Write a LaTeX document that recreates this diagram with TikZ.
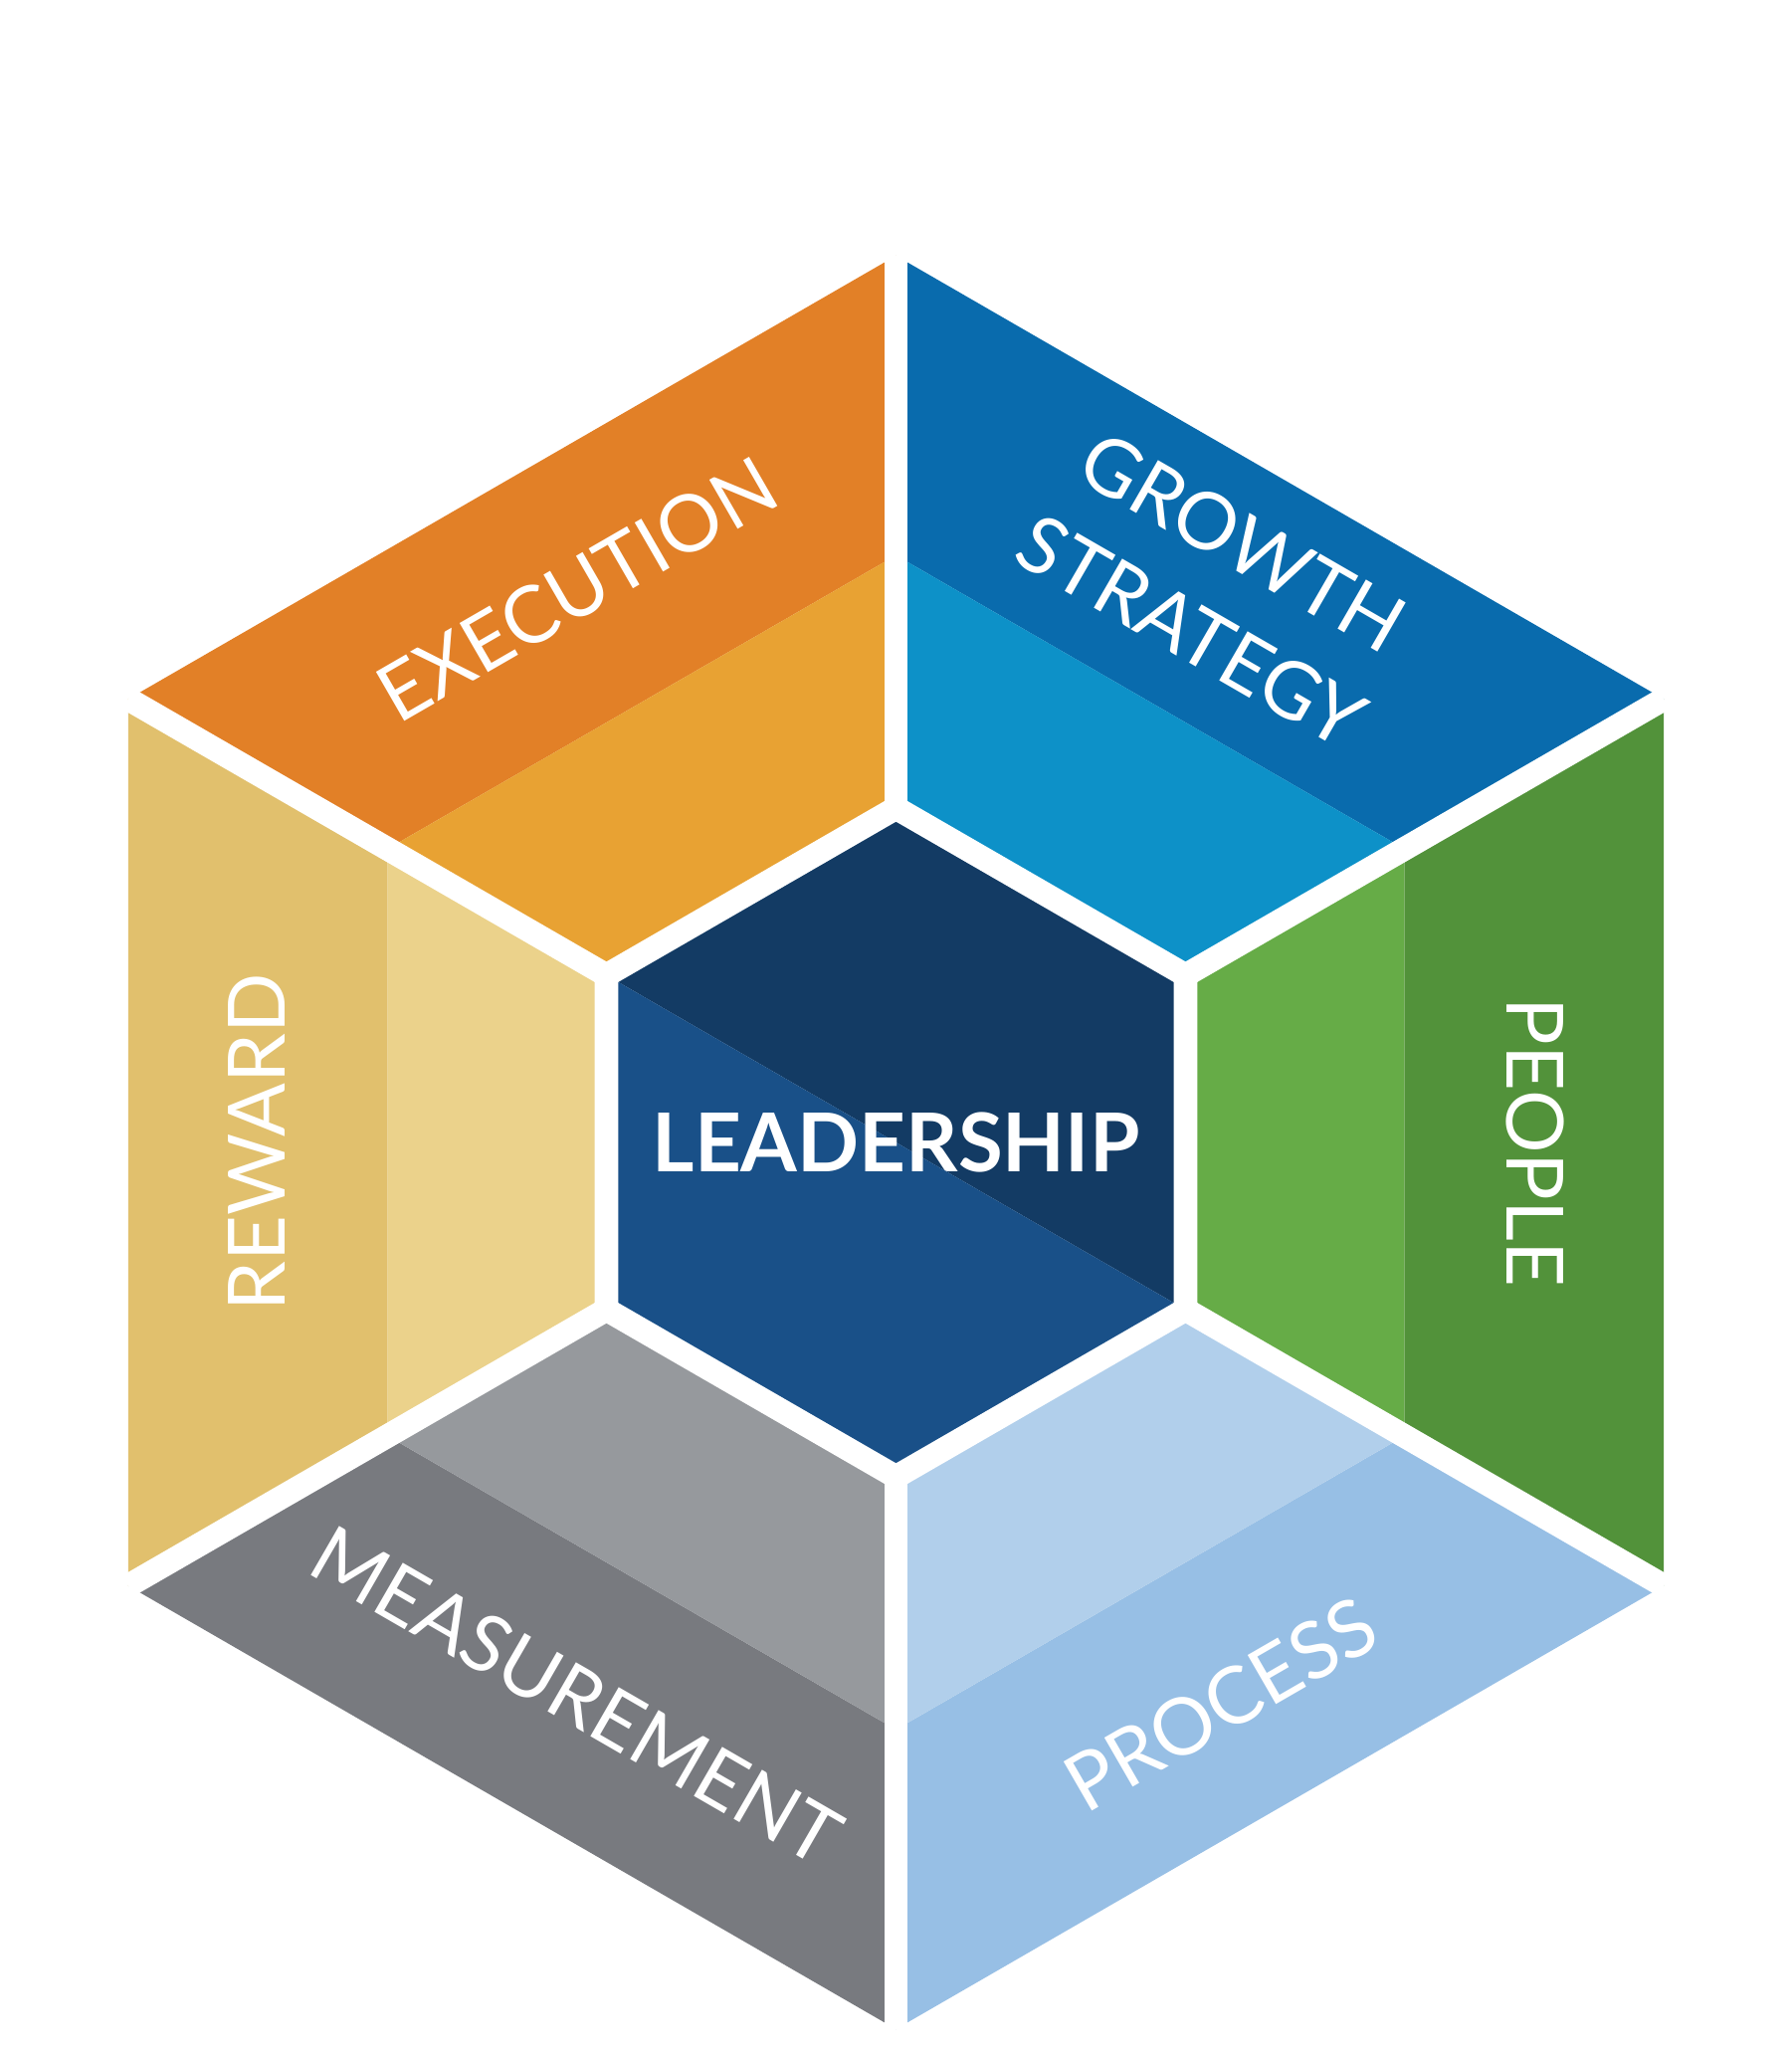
\documentclass[tikz,border=0pt]{standalone}
\usepackage{fontspec}
\setmainfont{Lato}

\definecolor{execdark}{HTML}{E28027}
\definecolor{execlight}{HTML}{E8A233}
\definecolor{growdark}{HTML}{096BAD}
\definecolor{growlight}{HTML}{0D91C8}
\definecolor{peopledark}{HTML}{52923A}
\definecolor{peoplelight}{HTML}{66AC47}
\definecolor{procdark}{HTML}{97BFE5}
\definecolor{proclight}{HTML}{B1CFEB}
\definecolor{measdark}{HTML}{787A7F}
\definecolor{measlight}{HTML}{96999D}
\definecolor{rewarddark}{HTML}{E1C06D}
\definecolor{rewardlight}{HTML}{EBD28B}
\definecolor{leaddark}{HTML}{133B64}
\definecolor{leadlight}{HTML}{195088}

\begin{document}
\begin{tikzpicture}[x=0.01cm,y=0.01cm,
    label text/.style={text=white,font=\fontsize{22.6}{29.5}\selectfont,align=center,inner sep=0pt},
    lead text/.style={text=white,font=\fontsize{23.2}{28}\selectfont\bfseries,inner sep=0pt},
    gap line/.style={white,line width=0.237cm}]
%  \draw [step=100,color=gray] (-900,-916) grid (900,1148);
  \useasboundingbox (-900.5,-916) rectangle (900.5,1148);

  % outer corners
  \path (90:891) coordinate (O1);
  \path (150:891) coordinate (O2);
  \path (210:891) coordinate (O3);
  \path (270:891) coordinate (O4);
  \path (330:891) coordinate (O5);
  \path (30:891) coordinate (O6);

  % where the two tones meet
  \path (90:590) coordinate (D1);
  \path (150:590) coordinate (D2);
  \path (210:590) coordinate (D3);
  \path (270:590) coordinate (D4);
  \path (330:590) coordinate (D5);
  \path (30:590) coordinate (D6);

  % inner hexagon
  \path (90:336) coordinate (I1);
  \path (150:336) coordinate (I2);
  \path (210:336) coordinate (I3);
  \path (270:336) coordinate (I4);
  \path (330:336) coordinate (I5);
  \path (30:336) coordinate (I6);

  \fill[execdark] (O1) -- (O2) -- (D2) -- (D1) -- cycle;
  \fill[execlight] (D1) -- (D2) -- (I2) -- (I1) -- cycle;
  \fill[rewarddark] (O2) -- (O3) -- (D3) -- (D2) -- cycle;
  \fill[rewardlight] (D2) -- (D3) -- (I3) -- (I2) -- cycle;
  \fill[measdark] (O3) -- (O4) -- (D4) -- (D3) -- cycle;
  \fill[measlight] (D3) -- (D4) -- (I4) -- (I3) -- cycle;
  \fill[procdark] (O4) -- (O5) -- (D5) -- (D4) -- cycle;
  \fill[proclight] (D4) -- (D5) -- (I5) -- (I4) -- cycle;
  \fill[peopledark] (O5) -- (O6) -- (D6) -- (D5) -- cycle;
  \fill[peoplelight] (D5) -- (D6) -- (I6) -- (I5) -- cycle;
  \fill[growdark] (O6) -- (O1) -- (D1) -- (D6) -- cycle;
  \fill[growlight] (D6) -- (D1) -- (I1) -- (I6) -- cycle;

  \fill[leaddark] (I5) -- (I6) -- (I1) -- (I2) -- cycle;
  \fill[leadlight] (I2) -- (I3) -- (I4) -- (I5) -- cycle;

  % white gaps
  \draw[gap line] (I1) -- (O1);
  \draw[gap line] (I2) -- (O2);
  \draw[gap line] (I3) -- (O3);
  \draw[gap line] (I4) -- (O4);
  \draw[gap line] (I5) -- (O5);
  \draw[gap line] (I6) -- (O6);
  \draw[gap line] (I1) -- (I2) -- (I3) -- (I4) -- (I5) -- (I6) -- cycle;

  \node[label text, rotate=30] (execution) at (120:642) {EXECUTION};
  \node[label text, rotate=-30] (growth) at (60:645) {GROWTH\\STRATEGY};
  \node[label text, rotate=-90] (people) at (0:642) {PEOPLE};
  \node[label text, rotate=30] (process) at (300:652) {PROCESS};
  \node[label text, rotate=-30] (measurement) at (240:642) {MEASUREMENT};
  \node[label text, rotate=90] (reward) at (180:642) {REWARD};
  \node[lead text] (leadership) at (0,0) {LEADERSHIP};

\end{tikzpicture}
\end{document}
